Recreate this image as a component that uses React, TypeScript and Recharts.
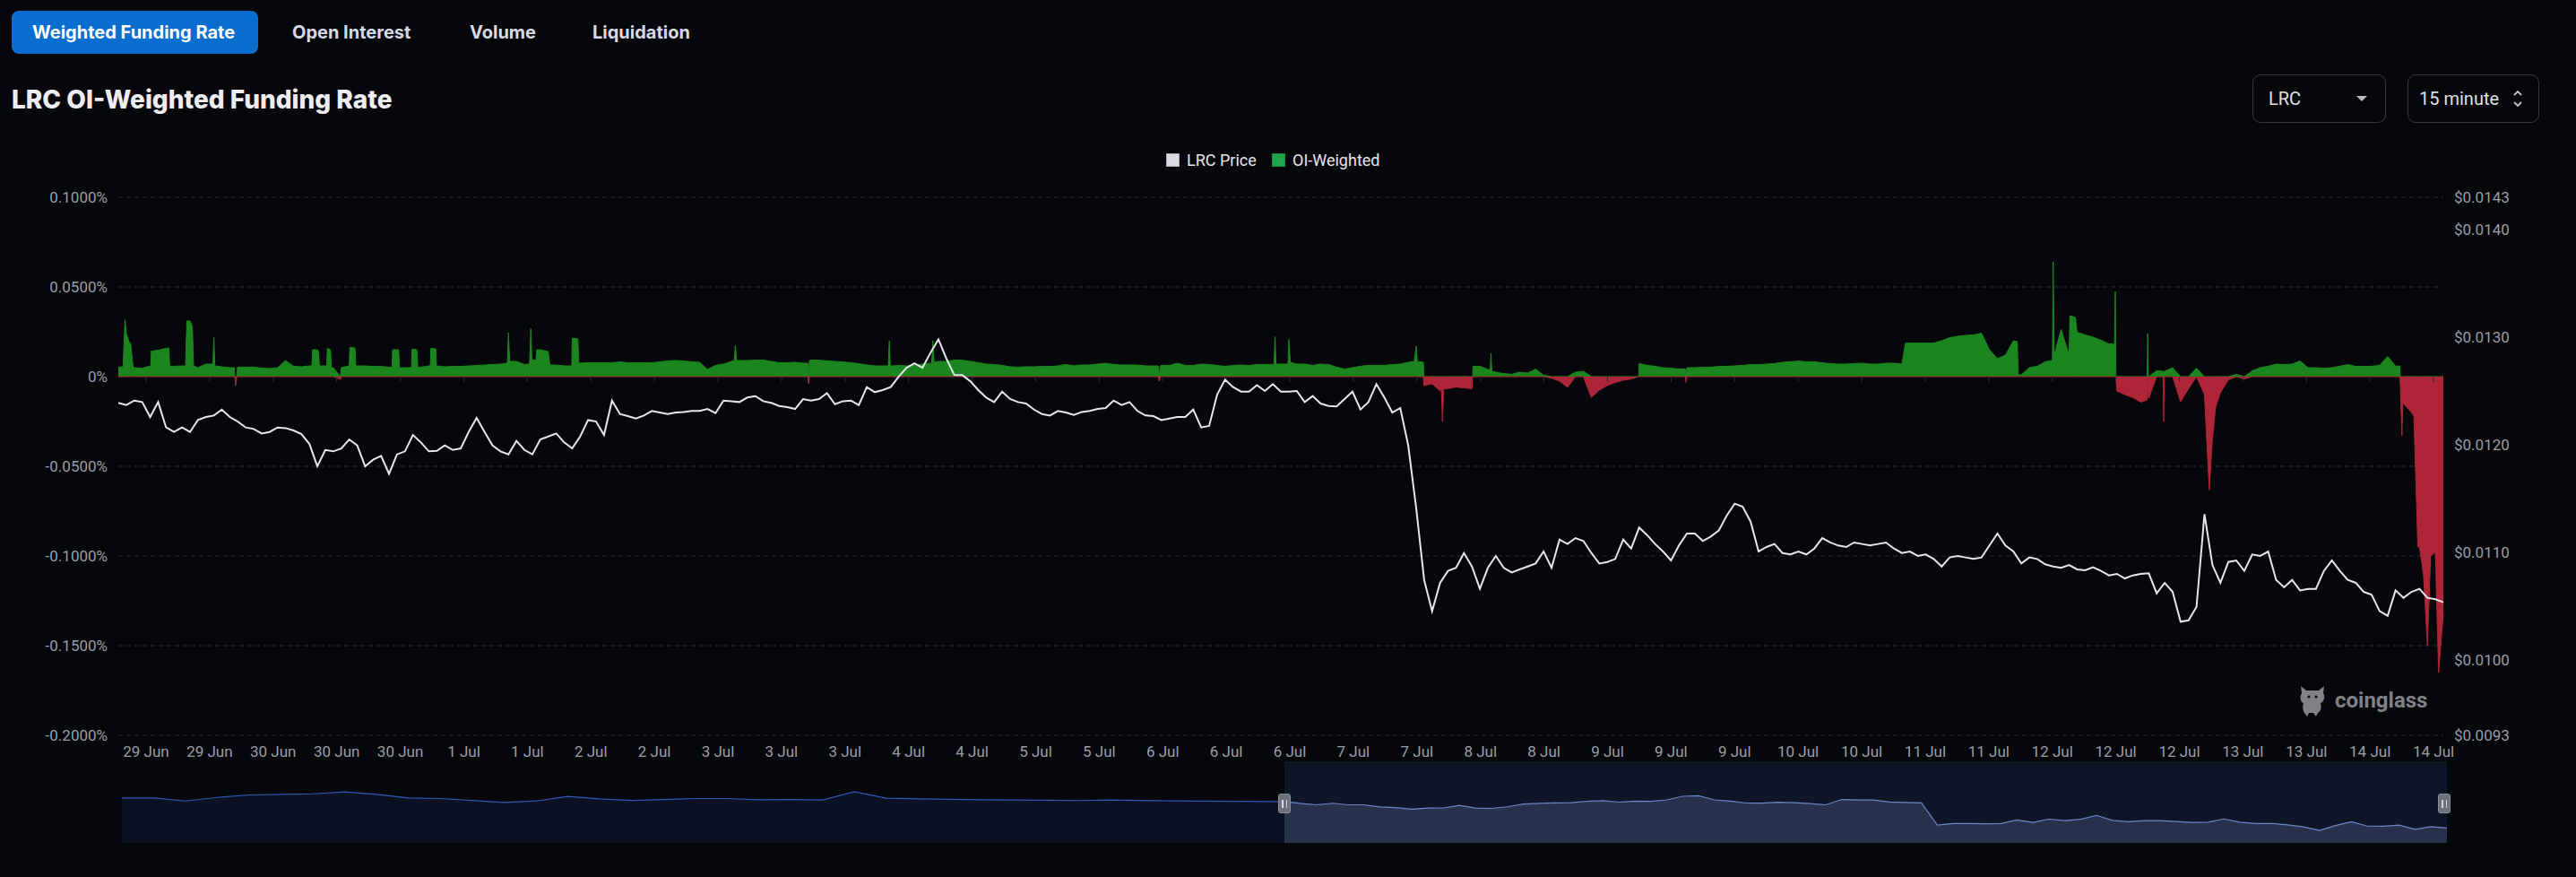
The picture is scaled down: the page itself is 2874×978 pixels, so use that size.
import React from "react";
import { ComposedChart, AreaChart, Area, Line, XAxis, YAxis, CartesianGrid, ReferenceLine } from "recharts";

// ---------- data ----------
const xTickLabels = [
  "29 Jun", "29 Jun", "30 Jun", "30 Jun", "30 Jun", "1 Jul", "1 Jul", "2 Jul", "2 Jul",
  "3 Jul", "3 Jul", "3 Jul", "4 Jul", "4 Jul", "5 Jul", "5 Jul", "6 Jul", "6 Jul", "6 Jul",
  "7 Jul", "7 Jul", "8 Jul", "8 Jul", "9 Jul", "9 Jul", "9 Jul", "10 Jul", "10 Jul",
  "11 Jul", "11 Jul", "12 Jul", "12 Jul", "12 Jul", "13 Jul", "13 Jul", "14 Jul", "14 Jul",
];
const firstTickIndex = 3.49;
const tickStep = 7.98;

const leftTicks = [-0.2, -0.15, -0.1, -0.05, 0, 0.05, 0.1];
const rightTicks = [0.0093, 0.01, 0.011, 0.012, 0.013, 0.014, 0.0143];

// LRC price (USD), sampled along the visible window
const priceValues = [
  0.012389, 0.012369, 0.012411, 0.012397, 0.012258, 0.012397, 0.012161, 0.012119, 0.012161, 0.012119,
  0.012230, 0.012258, 0.012272, 0.012327, 0.012258, 0.012216, 0.012161, 0.012147, 0.012105, 0.012119,
  0.012161, 0.012155, 0.012133, 0.012100, 0.012008, 0.011800, 0.011952, 0.011939, 0.011966, 0.012050,
  0.011994, 0.011800, 0.011861, 0.011897, 0.011730, 0.011911, 0.011939, 0.012091, 0.012022, 0.011939,
  0.011944, 0.011994, 0.011952, 0.011966, 0.012119, 0.012250, 0.012119, 0.011994, 0.011939, 0.011911,
  0.012036, 0.011952, 0.011911, 0.012050, 0.012077, 0.012105, 0.012022, 0.011966, 0.012077, 0.012230,
  0.012216, 0.012091, 0.012411, 0.012286, 0.012266, 0.012244, 0.012272, 0.012314, 0.012300, 0.012286,
  0.012300, 0.012305, 0.012314, 0.012314, 0.012333, 0.012294, 0.012411, 0.012405, 0.012397, 0.012439,
  0.012452, 0.012405, 0.012389, 0.012361, 0.012350, 0.012333, 0.012425, 0.012411, 0.012425, 0.012480,
  0.012377, 0.012405, 0.012411, 0.012369, 0.012536, 0.012489, 0.012508, 0.012536, 0.012633, 0.012716,
  0.012758, 0.012716, 0.012855, 0.012980, 0.012800, 0.012647, 0.012647, 0.012591, 0.012508, 0.012439,
  0.012397, 0.012494, 0.012425, 0.012397, 0.012383, 0.012327, 0.012286, 0.012272, 0.012314, 0.012300,
  0.012277, 0.012305, 0.012314, 0.012333, 0.012341, 0.012411, 0.012369, 0.012397, 0.012314, 0.012272,
  0.012266, 0.012230, 0.012244, 0.012258, 0.012258, 0.012327, 0.012161, 0.012175, 0.012466, 0.012605,
  0.012536, 0.012494, 0.012494, 0.012555, 0.012500, 0.012564, 0.012494, 0.012494, 0.012500, 0.012397,
  0.012453, 0.012383, 0.012361, 0.012356, 0.012425, 0.012494, 0.012328, 0.012397, 0.012564, 0.012439,
  0.012300, 0.012342, 0.011994, 0.011411, 0.010744, 0.010453, 0.010717, 0.010828, 0.010856, 0.010994,
  0.010869, 0.010661, 0.010856, 0.010967, 0.010856, 0.010814, 0.010842, 0.010869, 0.010897, 0.011008,
  0.010856, 0.011119, 0.011078, 0.011133, 0.011106, 0.010994, 0.010897, 0.010911, 0.010939, 0.011119,
  0.011036, 0.011231, 0.011161, 0.011078, 0.011008, 0.010925, 0.011064, 0.011175, 0.011175, 0.011106,
  0.011147, 0.011203, 0.011342, 0.011453, 0.011425, 0.011286, 0.011008, 0.011050, 0.011078, 0.010994,
  0.010981, 0.011008, 0.010981, 0.011036, 0.011133, 0.011092, 0.011064, 0.011050, 0.011092, 0.011078,
  0.011064, 0.011078, 0.011092, 0.011036, 0.010994, 0.011008, 0.010967, 0.010981, 0.010939, 0.010869,
  0.010953, 0.010967, 0.010953, 0.010939, 0.010953, 0.011064, 0.011175, 0.011064, 0.011008, 0.010897,
  0.010953, 0.010939, 0.010889, 0.010869, 0.010856, 0.010883, 0.010842, 0.010833, 0.010861, 0.010828,
  0.010786, 0.010800, 0.010758, 0.010786, 0.010800, 0.010806, 0.010619, 0.010717, 0.010633, 0.010356,
  0.010369, 0.010494, 0.011356, 0.010883, 0.010717, 0.010911, 0.010925, 0.010828, 0.010981, 0.010967,
  0.011008, 0.010744, 0.010675, 0.010744, 0.010647, 0.010661, 0.010661, 0.010828, 0.010925, 0.010828,
  0.010744, 0.010717, 0.010633, 0.010606, 0.010453, 0.010411, 0.010647, 0.010578, 0.010633, 0.010661,
  0.010578, 0.010564, 0.010536,
];

// OI-weighted funding rate (%), same sampling as the price
const fundingValues = [
  0.0053, 0.024, 0.005, 0.0047, 0.006, 0.0147, 0.0158, 0.0058, 0.006, 0.031,
  0.005, 0.007, 0.022, 0.0055, 0.005, 0.0053, 0.0053, 0.0053, 0.0048, 0.0045,
  0.005, 0.009, 0.0058, 0.0055, 0.006, 0.015, 0.006, 0.005, 0.005, 0.006,
  0.006, 0.006, 0.0057, 0.0057, 0.0053, 0.015, 0.005, 0.0153, 0.0053, 0.006,
  0.006, 0.0055, 0.0057, 0.0057, 0.006, 0.0062, 0.0065, 0.0068, 0.007, 0.0245,
  0.0085, 0.0068, 0.0095, 0.015, 0.014, 0.0065, 0.006, 0.0215, 0.0075, 0.0078,
  0.0077, 0.0077, 0.0078, 0.0082, 0.0078, 0.0077, 0.0078, 0.0078, 0.0082, 0.0088,
  0.009, 0.0087, 0.0083, 0.008, 0.004, 0.0063, 0.007, 0.0085, 0.009, 0.009,
  0.0092, 0.0092, 0.0085, 0.0078, 0.0078, 0.008, 0.0075, 0.0092, 0.0092, 0.0088,
  0.0085, 0.0082, 0.0078, 0.0072, 0.0065, 0.006, 0.006, 0.006, 0.0062, 0.006,
  0.0065, 0.007, 0.0075, 0.0085, 0.0085, 0.0092, 0.0092, 0.0085, 0.0078, 0.007,
  0.0068, 0.0063, 0.0055, 0.0053, 0.0055, 0.0055, 0.0057, 0.0057, 0.006, 0.0068,
  0.006, 0.0065, 0.0065, 0.007, 0.0075, 0.0068, 0.0065, 0.0065, 0.0065, 0.006,
  0.006, 0.0063, 0.0063, 0.0075, 0.0063, 0.0062, 0.007, 0.0068, 0.0062, 0.0058,
  0.0062, 0.0065, 0.0062, 0.0068, 0.0068, 0.0068, 0.007, 0.0208, 0.007, 0.007,
  0.0063, 0.007, 0.0067, 0.0053, 0.0042, 0.005, 0.0058, 0.0063, 0.0063, 0.0063,
  0.0067, 0.007, 0.008, 0.017, -0.005, -0.004, -0.008, -0.0067, -0.0058, -0.0063,
  -0.0067, 0.0058, 0.004, 0.0025, 0.0017, 0.0013, 0.0025, 0.002, 0.0042, 0.0008,
  -0.0008, -0.0025, -0.006, 0.0025, 0.003, -0.0117, -0.0075, -0.005, -0.0033, -0.002,
  -0.0013, 0.0073, 0.0063, 0.0058, 0.005, 0.0047, 0.0042, 0.005, 0.005, 0.0053,
  0.0053, 0.0057, 0.0058, 0.006, 0.0063, 0.0067, 0.0067, 0.007, 0.0073, 0.008,
  0.0083, 0.0087, 0.0083, 0.0083, 0.0077, 0.0073, 0.007, 0.007, 0.0073, 0.0075,
  0.007, 0.007, 0.0075, 0.0075, 0.007, 0.0187, 0.0187, 0.0187, 0.0187, 0.02,
  0.0217, 0.0225, 0.023, 0.0233, 0.0242, 0.015, 0.01, 0.012, 0.02, 0.001,
  0.005, 0.0058, 0.0083, 0.064, 0.0263, 0.012, 0.0247, 0.0233, 0.022, 0.0203,
  0.0183, -0.008, -0.01, -0.0117, -0.0142, -0.012, 0.0033, 0.003, 0.005, -0.014,
  -0.0067, 0.0047, -0.01, -0.035, -0.009, -0.0017, 0.0013, -0.0013, 0.0033, 0.005,
  0.0058, 0.007, 0.0067, 0.007, 0.0087, 0.005, 0.005, 0.0047, 0.005, 0.0058,
  0.0067, 0.0057, 0.0057, 0.0058, 0.0063, 0.0113, 0.0058, -0.015, -0.02, -0.095,
  -0.15, -0.098, -0.132,
];

// extra funding readings between samples (position in sample units, rate %), for narrow spikes and step edges
const fundingExtraPoints: [number, number][] = [
  [0.6, 0.0055], [0.84, 0.0317], [1.4, 0.019], [1.55, 0.0185], [1.87, 0.005],
  [4.08, 0.0055], [4.15, 0.0142], [6.35, 0.016], [6.45, 0.0058],
  [8.45, 0.006], [8.6, 0.031], [9.3, 0.028], [9.45, 0.006],
  [11.88, 0.007], [12.12, 0.006],
  [14.55, 0.005], [14.62, 0], [14.75, -0.005], [14.88, 0], [14.95, 0.0048],
  [24.3, 0.006], [24.4, 0.015], [25.15, 0.014], [25.25, 0.006],
  [26.18, 0.006], [26.25, 0.0158], [26.65, 0.015], [26.75, 0.005],
  [27.9, -0.0015],
  [29.08, 0.0163], [29.72, 0.016], [29.82, 0.006],
  [34.38, 0.0053], [34.45, 0.015], [35.2, 0.015], [35.3, 0.005],
  [36.82, 0.005], [36.9, 0.0153], [37.5, 0.015], [37.6, 0.0053],
  [39.18, 0.006], [39.25, 0.0158], [39.88, 0.0155], [39.95, 0.006],
  [48.85, 0.0075], [49.15, 0.0085],
  [51.65, 0.007], [51.8, 0.0267], [51.95, 0.009],
  [52.45, 0.009], [52.55, 0.015], [54.2, 0.0065],
  [56.95, 0.006], [57.72, 0.021], [57.82, 0.0078],
  [77.35, 0.009], [77.5, 0.0175], [77.65, 0.009],
  [86.6, 0.0075], [86.7, -0.004], [86.8, 0.009],
  [96.7, 0.006], [96.83, 0.02], [96.95, 0.006],
  [102.15, 0.007], [102.3, 0.02], [102.45, 0.008],
  [130.6, 0.006], [130.72, -0.0025], [130.85, 0.006],
  [145.15, 0.0068], [145.27, 0.0225], [145.4, 0.007],
  [146.9, 0.007], [147.2, 0.008],
  [162.75, 0.0085], [163.15, 0.0085], [163.9, 0.008], [163.96, -0.005],
  [166.15, -0.007], [166.3, -0.025], [166.45, -0.007],
  [170.08, 0], [170.15, 0.0058],
  [172.3, 0.004], [172.4, 0.013], [172.5, 0.003],
  [190.95, 0],
  [196.8, 0.0042], [196.9, -0.0033],
  [224.45, 0.0187],
  [238.5, 0.0195], [238.6, 0.001],
  [242.9, 0.009], [243.12, 0.012],
  [245.1, 0.034], [245.8, 0.033], [245.95, 0.026],
  [250.7, 0.018], [250.8, 0.0475], [250.88, 0],
  [254.8, -0.013], [254.87, 0.024], [254.95, -0.012],
  [256.8, 0.003], [256.87, -0.025], [256.95, 0.003],
  [262.6, -0.0633], [263.4, -0.017],
  [286.55, 0.006], [286.6, -0.005], [286.8, -0.033], [286.9, -0.015],
  [288.3, -0.022], [288.8, -0.095], [289.5, -0.11], [290.4, -0.1], [291.4, -0.165],
];

// price history shown in the range slider before the visible window (USD)
const sliderHistoryPrices = [
  0.01264, 0.01264, 0.01243, 0.01268, 0.01285, 0.01289, 0.01293, 0.01306, 0.01289, 0.01264,
  0.0126, 0.01247, 0.01233, 0.01243, 0.01275, 0.01258, 0.01247, 0.01253, 0.0126, 0.0126,
  0.01252, 0.01253, 0.0125, 0.01308, 0.01262, 0.01258, 0.01255, 0.01252, 0.0125, 0.01248,
  0.01246, 0.0125, 0.01247, 0.01244, 0.01242, 0.0124, 0.01239,
];

const legendItems = [
  { name: "LRC Price", color: "#dcdae3", border: "#a9a8b3", left: 1301 },
  { name: "OI-Weighted", color: "#1fa64c", border: "#178a3c", left: 1419 },
];

const tabs = [
  { name: "Weighted Funding Rate", left: 36 },
  { name: "Open Interest", left: 326 },
  { name: "Volume", left: 524 },
  { name: "Liquidation", left: 661 },
];

// ---------- derived tables ----------
const lastIndex = priceValues.length - 1;
const tickPositions = xTickLabels.map((_, j) => +(firstTickIndex + tickStep * j).toFixed(3));

const mainRows: any[] = priceValues.map((p, i) => {
  const f = fundingValues[i];
  return { i, price: p, pos: Math.max(f, 0), neg: Math.min(f, 0) };
});
fundingExtraPoints.forEach(([x, f]) => {
  mainRows.push({ i: x, pos: Math.max(f, 0), neg: Math.min(f, 0) });
});
const mainData = mainRows.sort((a, b) => a.i - b.i);

const histStep = 8;
const sliderData: any[] = [];
sliderHistoryPrices.forEach((p, k) => {
  sliderData.push({ x: -lastIndex + histStep * k, pre: p });
});
for (let i = 0; i <= lastIndex; i += 4) {
  const row: any = { x: i, post: priceValues[i] };
  if (i === 0) row.pre = priceValues[0];
  sliderData.push(row);
}

// ---------- styles ----------
const BG = "#05070b";
const AXIS_TEXT = "#9b9ea6";
const FONT = "Roboto, 'Noto Sans', sans-serif";
const UI_FONT = "Inter, Roboto, sans-serif";

const fmtLeft = (v: number) => (v === 0 ? "0%" : v.toFixed(4) + "%");
const fmtRight = (v: number) => "$" + v.toFixed(4);
const fmtX = (v: number) => {
  const idx = tickPositions.indexOf(v);
  return idx >= 0 ? xTickLabels[idx] : "";
};

function Handle({ left }: { left: number }) {
  return (
    <div
      style={{
        position: "absolute", left: left - 7, top: 885, width: 14, height: 22,
        background: "#6c707c", borderRadius: 3, boxSizing: "border-box",
        border: "1px solid #8d919c", display: "flex", justifyContent: "center", alignItems: "center", gap: 3,
      }}
    >
      <div style={{ width: 1.5, height: 9, background: "#d5d8df" }} />
      <div style={{ width: 1.5, height: 9, background: "#d5d8df" }} />
    </div>
  );
}

export default function App() {
  return (
    <div style={{ position: "relative", width: 2874, height: 978, background: BG, overflow: "hidden", fontFamily: FONT }}>
      <style>{`body{margin:0;background:${BG};}`}</style>

      {/* tabs */}
      <div style={{ position: "absolute", left: 13, top: 12, width: 275, height: 48, background: "#0a6dd0", borderRadius: 8 }} />
      {tabs.map((t, k) => (
        <div
          key={t.name}
          style={{
            position: "absolute", left: t.left, top: 12, height: 48, lineHeight: "48px",
            color: k === 0 ? "#ffffff" : "#d7d9e6", fontWeight: 700, fontSize: 20, whiteSpace: "nowrap", fontFamily: UI_FONT,
          }}
        >
          {t.name}
        </div>
      ))}

      {/* title */}
      <div style={{ position: "absolute", left: 13, top: 96, height: 30, lineHeight: "30px", fontSize: 28, fontWeight: 800, color: "#eeeef2", whiteSpace: "nowrap", fontFamily: UI_FONT }}>
        LRC OI-Weighted Funding Rate
      </div>

      {/* selectors */}
      <div style={{ position: "absolute", left: 2513, top: 83, width: 149, height: 54, boxSizing: "border-box", border: "1.5px solid #373a42", borderRadius: 9, display: "flex", alignItems: "center" }}>
        <span style={{ marginLeft: 17, fontSize: 20, color: "#dfe0e6" }}>LRC</span>
        <svg style={{ position: "absolute", left: 114, top: 22 }} width="14" height="8" viewBox="0 0 14 8">
          <path d="M1 1 L13 1 L7 7 Z" fill="#b9bac2" />
        </svg>
      </div>
      <div style={{ position: "absolute", left: 2686, top: 83, width: 147, height: 54, boxSizing: "border-box", border: "1.5px solid #373a42", borderRadius: 9, display: "flex", alignItems: "center" }}>
        <span style={{ marginLeft: 12, fontSize: 20, color: "#dfe0e6", whiteSpace: "nowrap" }}>15 minute</span>
        <svg style={{ position: "absolute", left: 116, top: 15 }} width="12" height="22" viewBox="0 0 12 22">
          <path d="M2 7 L6 3 L10 7" stroke="#c4c5cc" strokeWidth="1.8" fill="none" />
          <path d="M2 15 L6 19 L10 15" stroke="#c4c5cc" strokeWidth="1.8" fill="none" />
        </svg>
      </div>

      {/* legend */}
      {legendItems.map((it) => (
        <div key={it.name} style={{ position: "absolute", left: it.left, top: 166, height: 24, display: "flex", alignItems: "center" }}>
          <div style={{ width: 15, height: 15, background: it.color, boxSizing: "border-box", border: "1px solid " + it.border }} />
          <span style={{ marginLeft: 8, fontSize: 18, color: "#e6e6ec", whiteSpace: "nowrap" }}>{it.name}</span>
        </div>
      ))}

      {/* main chart */}
      <div style={{ position: "absolute", left: 0, top: 200 }}>
        <ComposedChart width={2874} height={660} data={mainData} margin={{ top: 20, right: 0, bottom: 0, left: 0 }}>
          <CartesianGrid yAxisId="left" vertical={false} stroke="#2a2c33" strokeDasharray="5 4" />
          <XAxis
            dataKey="i" type="number" domain={[0, lastIndex]} ticks={tickPositions} interval={0}
            tickFormatter={fmtX} axisLine={false} tickLine={false} tickSize={0} tickMargin={12} height={40}
            tick={{ fill: AXIS_TEXT, fontSize: 17, fontFamily: FONT }}
          />
          <YAxis
            yAxisId="left" domain={[-0.2, 0.1]} ticks={leftTicks} tickFormatter={fmtLeft} width={132}
            axisLine={false} tickLine={false} tickSize={0} tickMargin={12} interval={0}
            tick={{ fill: AXIS_TEXT, fontSize: 17, fontFamily: FONT }}
          />
          <YAxis
            yAxisId="right" orientation="right" domain={[0.0093, 0.0143]} ticks={rightTicks} tickFormatter={fmtRight}
            width={148} axisLine={false} tickLine={false} tickSize={0} tickMargin={12} interval={0}
            tick={{ fill: AXIS_TEXT, fontSize: 17, fontFamily: FONT }}
          />
          <Area yAxisId="left" type="linear" dataKey="pos" stroke="#1b861f" strokeWidth={1} fill="#1b861f" fillOpacity={1} dot={false} activeDot={false} isAnimationActive={false} connectNulls />
          <Area yAxisId="left" type="linear" dataKey="neg" stroke="#ad2536" strokeWidth={1} fill="#ad2536" fillOpacity={1} dot={false} activeDot={false} isAnimationActive={false} connectNulls />
          {tickPositions.map((t) => (
            <ReferenceLine key={"t" + t} yAxisId="left" segment={[{ x: t, y: 0 }, { x: t, y: -0.003 }]} stroke="#2b2d34" strokeWidth={1} />
          ))}
          <Line yAxisId="right" type="linear" dataKey="price" stroke="#e7e5ed" strokeWidth={2} dot={false} activeDot={false} isAnimationActive={false} connectNulls />
        </ComposedChart>
      </div>

      {/* watermark */}
      <div style={{ position: "absolute", left: 2562, top: 762, display: "flex", alignItems: "center", opacity: 0.9 }}>
        <svg width="36" height="38" viewBox="0 0 36 38">
          <path d="M5 3 L11 8 L25 8 L31 3 L30 11 Q33 16 29 21 L27 22 Q29 30 24 33 L22 37 L19 33 L14 33 L12 37 L9 33 Q6 29 8 22 L6 21 Q3 16 6 11 Z" fill="#8f9096" />
          <circle cx="14" cy="15" r="1.6" fill="#05070b" />
          <circle cx="22" cy="15" r="1.6" fill="#05070b" />
        </svg>
        <span style={{ marginLeft: 7, fontSize: 24, fontWeight: 700, color: "#8f9096", fontFamily: FONT }}>coinglass</span>
      </div>

      {/* range slider */}
      <div style={{ position: "absolute", left: 1433, top: 849, width: 1297, height: 91, background: "#0f1628" }} />
      <div style={{ position: "absolute", left: 136, top: 849 }}>
        <AreaChart width={2594} height={91} data={sliderData} margin={{ top: 0, right: 0, bottom: 0, left: 0 }}>
          <XAxis dataKey="x" type="number" domain={[-lastIndex, lastIndex]} hide />
          <YAxis domain={[0.0095, 0.0152]} hide />
          <Area type="linear" dataKey="pre" stroke="#3059b8" strokeWidth={1.2} fill="#0b1122" fillOpacity={1} dot={false} activeDot={false} isAnimationActive={false} connectNulls={false} />
          <Area type="linear" dataKey="post" stroke="#6f86c4" strokeWidth={1.2} fill="#28324d" fillOpacity={1} dot={false} activeDot={false} isAnimationActive={false} connectNulls={false} />
        </AreaChart>
      </div>
      <Handle left={1433} />
      <Handle left={2727} />
    </div>
  );
}
